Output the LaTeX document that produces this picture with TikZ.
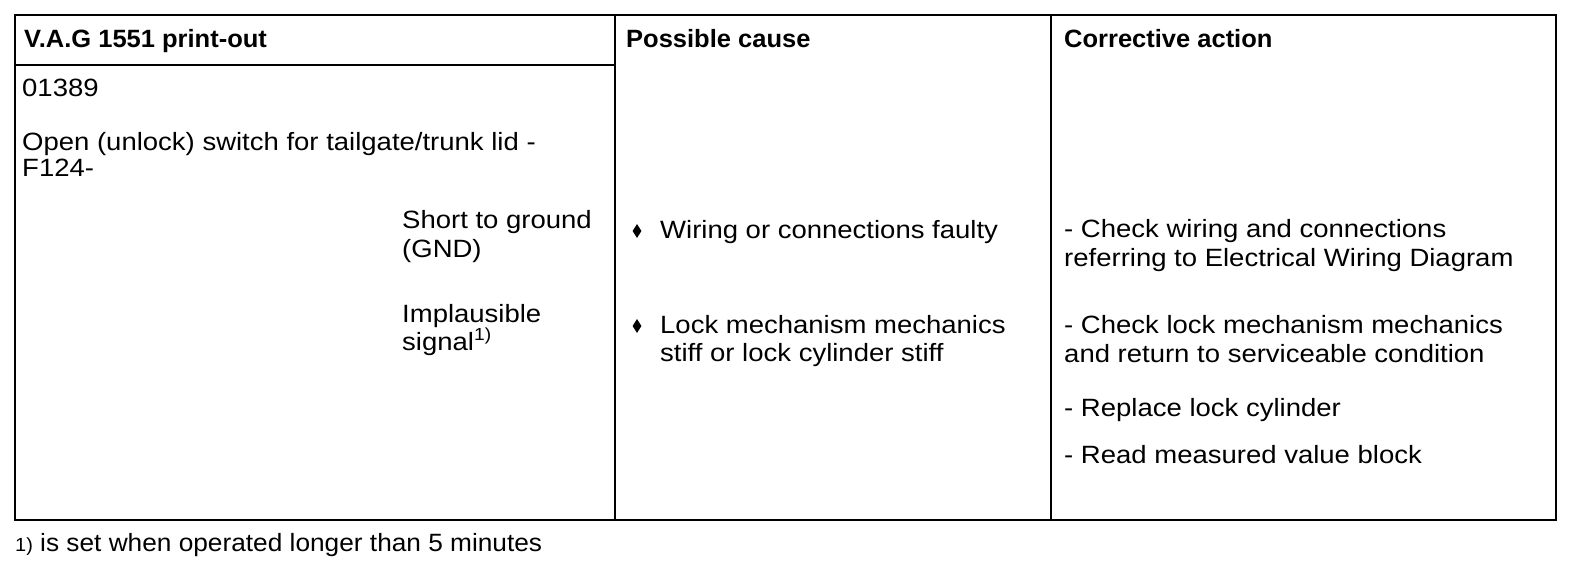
\documentclass[tikz,border=0pt]{standalone}
\usepackage{fontspec}
\setmainfont{Liberation Sans}
\newfontfamily\bodyfont{Liberation Sans}[FakeStretch=1.1]
\newfontfamily\headfont{Liberation Sans}[FakeStretch=1.02]
\newfontfamily\footfont{Liberation Sans}[FakeStretch=1.05]
\usetikzlibrary{shapes.geometric}
\begin{document}
\begin{tikzpicture}[x=1pt,y=-1pt,
  txt/.style={anchor=base west, inner sep=0pt, font=\bodyfont\fontsize{25}{29}\selectfont},
  hd/.style={anchor=base west, inner sep=0pt, font=\headfont\bfseries\fontsize{25}{29}\selectfont},
  fnote/.style={anchor=base west, inner sep=0pt, font=\footfont\fontsize{25}{29}\selectfont},
  bul/.style={diamond, fill=black, inner sep=0pt, minimum width=9pt, minimum height=14pt},
  rulel/.style={line width=2pt}]
\useasboundingbox (0,0) rectangle (1584,564);
% grid
\coordinate (tl) at (15,15);
\coordinate (br) at (1556,520);
\coordinate (d1t) at (615,15);
\coordinate (d1b) at (615,520);
\coordinate (d2t) at (1051,15);
\coordinate (d2b) at (1051,520);
\coordinate (hl) at (15,65);
\coordinate (hr) at (615,65);
\draw[rulel] (tl) rectangle (br);
\draw[rulel] (d1t) -- (d1b);
\draw[rulel] (d2t) -- (d2b);
\draw[rulel] (hl) -- (hr);
% headers
\node[hd] (h1) at (24,48) {V.A.G 1551 print-out};
\node[hd] (h2) at (626,48) {Possible cause};
\node[hd] (h3) at (1064,48) {Corrective action};
% column 1
\node[txt] (c1a) at (22,97) {01389};
\node[txt] (c1b) at (22,151) {Open (unlock) switch for tailgate/trunk lid -};
\node[txt] (c1c) at (22,177) {F124-};
\node[txt] (c1d) at (402,229) {Short to ground};
\node[txt] (c1e) at (402,257) {(GND)};
\node[txt] (c1f) at (402,322) {Implausible};
\node[txt] (c1g) at (402,350) {signal\textsuperscript{1)}};
% column 2
\node[bul] (b1) at (637,231) {};
\node[txt] (c2a) at (660,238) {Wiring or connections faulty};
\node[bul] (b2) at (637,326) {};
\node[txt] (c2b) at (660,333) {Lock mechanism mechanics};
\node[txt] (c2c) at (660,361) {stiff or lock cylinder stiff};
% column 3
\node[txt] (c3a) at (1064,237) {- Check wiring and connections};
\node[txt] (c3b) at (1064,266) {referring to Electrical Wiring Diagram};
\node[txt] (c3c) at (1064,333) {- Check lock mechanism mechanics};
\node[txt] (c3d) at (1064,362) {and return to serviceable condition};
\node[txt] (c3e) at (1064,416) {- Replace lock cylinder};
\node[txt] (c3f) at (1064,463) {- Read measured value block};
% footnote
\node[fnote] (fn) at (15,551) {{\fontsize{19}{22}\selectfont 1)} is set when operated longer than 5 minutes};
\end{tikzpicture}
\end{document}
